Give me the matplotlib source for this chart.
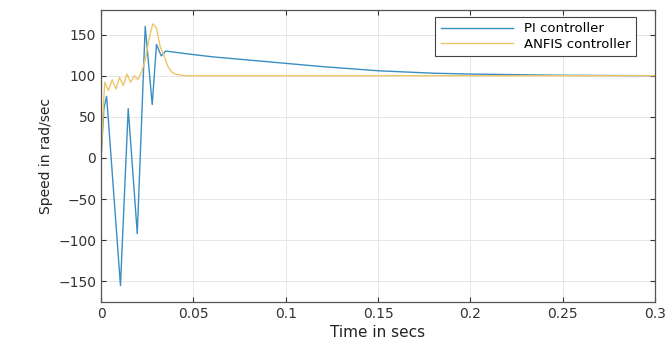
import matplotlib.pyplot as plt

# PI controller speed response
pi_t = [0, 0.0015, 0.003, 0.0105, 0.0147, 0.0196, 0.0239, 0.0277, 0.030, 0.0326,
        0.035, 0.045, 0.06, 0.08, 0.1, 0.12, 0.15, 0.18, 0.2, 0.25, 0.3]
pi_v = [0, 60, 75, -155, 60, -92, 160, 65, 138, 124,
        130, 127, 123, 119, 115, 111, 106, 103, 102, 100.5, 100]

# ANFIS controller speed response
anfis_t = [0, 0.0012, 0.002, 0.004, 0.006, 0.008, 0.010, 0.012, 0.014, 0.016,
           0.018, 0.020, 0.022, 0.024, 0.026, 0.028, 0.030, 0.032, 0.034, 0.036,
           0.038, 0.040, 0.045, 0.06, 0.1, 0.2, 0.3]
anfis_v = [0, 60, 92, 82, 95, 84, 98, 88, 102, 92,
           100, 95, 105, 120, 145, 163, 158, 135, 125, 112,
           105, 102, 100, 100, 100, 100, 100]

x_ticks = [0, 0.05, 0.1, 0.15, 0.2, 0.25, 0.3]
x_labels = ["0", "0.05", "0.1", "0.15", "0.2", "0.25", "0.3"]
y_ticks = [-150, -100, -50, 0, 50, 100, 150]

fig = plt.figure(figsize=(6.65, 3.52), dpi=100)
ax = fig.add_axes([0.152, 0.142, 0.833, 0.830])

ax.plot(pi_t, pi_v, color="#3a8fc0", lw=1.0, label="PI controller")
ax.plot(anfis_t, anfis_v, color="#efc56a", lw=1.0, label="ANFIS controller")

ax.set_xlim(0, 0.3)
ax.set_ylim(-175, 180)
ax.set_xticks(x_ticks)
ax.set_xticklabels(x_labels)
ax.set_yticks(y_ticks)
ax.tick_params(direction="in", top=True, right=True, labelsize=10, colors="#333333")
ax.grid(True, color="#e6e6e6", lw=0.7)
for s in ax.spines.values():
    s.set_color("#555555")
    s.set_linewidth(0.9)

ax.set_xlabel("Time in secs", fontsize=11, color="#222222", labelpad=3)
ax.set_ylabel("Speed in rad/sec", fontsize=10, color="#222222")

leg = ax.legend(loc="upper right", bbox_to_anchor=(0.965, 0.975), borderaxespad=0,
                fontsize=9.5, fancybox=False, framealpha=1, edgecolor="#444444",
                handlelength=5.5, labelspacing=0.2)
leg.get_frame().set_linewidth(0.8)

fig.savefig("out.png", dpi=100)
